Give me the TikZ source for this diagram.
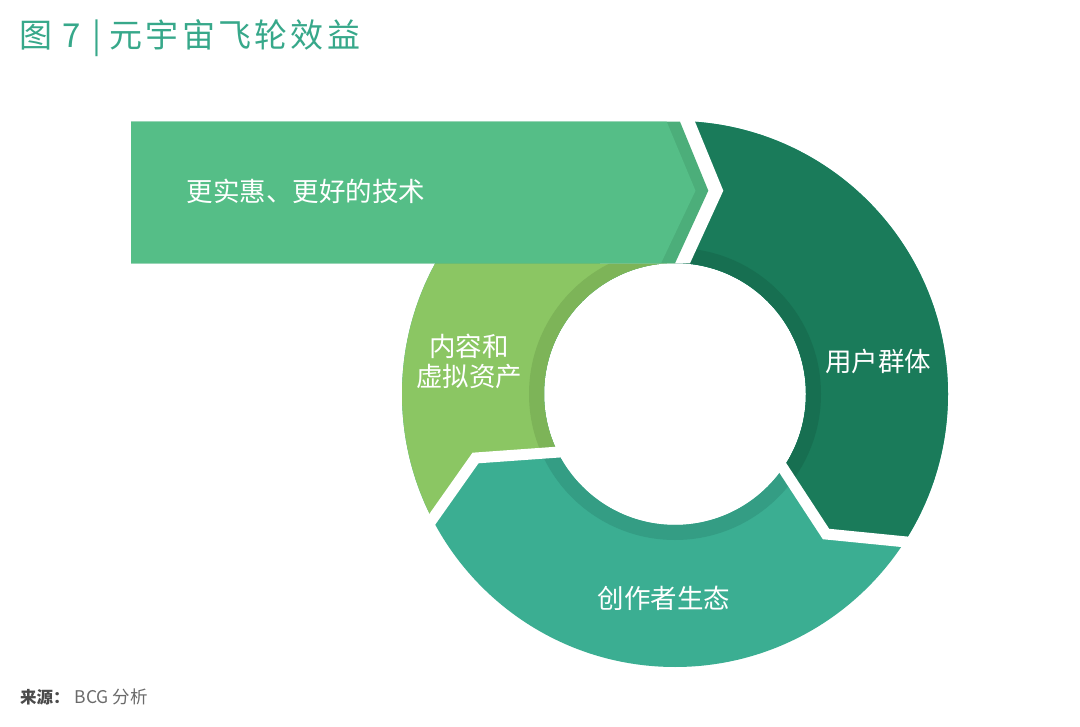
\documentclass[tikz,border=0pt]{standalone}
\usepackage{fontspec}
\setmainfont{Noto Sans CJK SC}
\newfontfamily\titlefont[LetterSpace=10]{Noto Sans CJK SC}
\definecolor{arrowc}{HTML}{55BE87}
\definecolor{arrowd}{HTML}{4CAE7A}
\definecolor{dkg}{HTML}{1A7B5A}
\definecolor{dkgb}{HTML}{176F51}
\definecolor{tealc}{HTML}{3BAE92}
\definecolor{tealb}{HTML}{349D84}
\definecolor{lgc}{HTML}{8BC663}
\definecolor{lgb}{HTML}{7DB458}
\definecolor{titlec}{HTML}{37A88A}
\definecolor{srcd}{HTML}{4A4A4A}
\definecolor{srcc}{HTML}{6A6A6A}
\tikzset{
  lbl/.style={text=white, inner sep=0pt, font=\fontsize{26.5}{30}\selectfont},
  gapline/.style={white, line width=11pt},
}
\begin{document}
\begin{tikzpicture}[x=1pt,y=-1pt]
\useasboundingbox[fill=white] (0,0) rectangle (1080,727);
% ring
\begin{scope}[shift={(675,394)}]
  \fill[tealc,even odd rule] (0,0) circle[radius=273pt] (0,0) circle[radius=131pt];
  \fill[tealb,even odd rule] (0,0) circle[radius=146pt] (0,0) circle[radius=131pt];
  \begin{scope}
    \clip (0,0) -- (85.75,40.25) -- (151,140) -- (271.75,152) -- (350,160) -- (350,-350) -- (0,-350) -- cycle;
    \fill[dkg,even odd rule] (0,0) circle[radius=273pt] (0,0) circle[radius=131pt];
    \fill[dkgb,even odd rule] (0,0) circle[radius=146pt] (0,0) circle[radius=131pt];
  \end{scope}
  \begin{scope}
    \clip (0,0) -- (-84,55.75) -- (-199.5,64) -- (-267.75,160.75) -- (-350,170) -- (-350,-350) -- (0,-350) -- cycle;
    \fill[lgc,even odd rule] (0,0) circle[radius=273pt] (0,0) circle[radius=131pt];
    \fill[lgb,even odd rule] (0,0) circle[radius=146pt] (0,0) circle[radius=131pt];
  \end{scope}
  \draw[gapline] (85.75,40.25) -- (151,140) -- (271.75,152);
  \draw[gapline] (-84,55.75) -- (-199.5,64) -- (-267.75,160.75);
\end{scope}
% gap before arrow tip
\fill[white] (600,100) -- (686.1,100) -- (723.3,190.7) -- (690,263.3) -- (600,263.3) -- cycle;
% arrow
\fill[arrowd] (131,121.7) -- (680,121.7) -- (708.3,190.7) -- (675,263.3) -- (131,263.3) -- cycle;
\fill[arrowc] (131,121.7) -- (666.7,121.7) -- (695.5,190.7) -- (661,263.3) -- (131,263.3) -- cycle;
% labels
\node[lbl] (tech) at (306,191) {更实惠、更好的技术};
\node[lbl] (users) at (878,361) {用户群体};
\node[lbl, align=center] (content) at (469,361) {内容和\\虚拟资产};
\node[lbl] (creators) at (664,598) {创作者生态};
% title
\node[anchor=west, inner sep=0pt, text=titlec, font=\fontsize{33}{36}\selectfont\titlefont] (title) at (19,38) {图\hspace{10pt}7\hspace{12pt}|\hspace{8pt}元宇宙飞轮效益};
% source
\node[anchor=west, inner sep=0pt, text=srcc, font=\fontsize{17.5}{19}\selectfont] (src) at (20,697) {\textcolor{srcd}{\fontsize{16.5}{18}\selectfont\bfseries 来源：}\hspace{5pt}BCG 分析};
\end{tikzpicture}
\end{document}
